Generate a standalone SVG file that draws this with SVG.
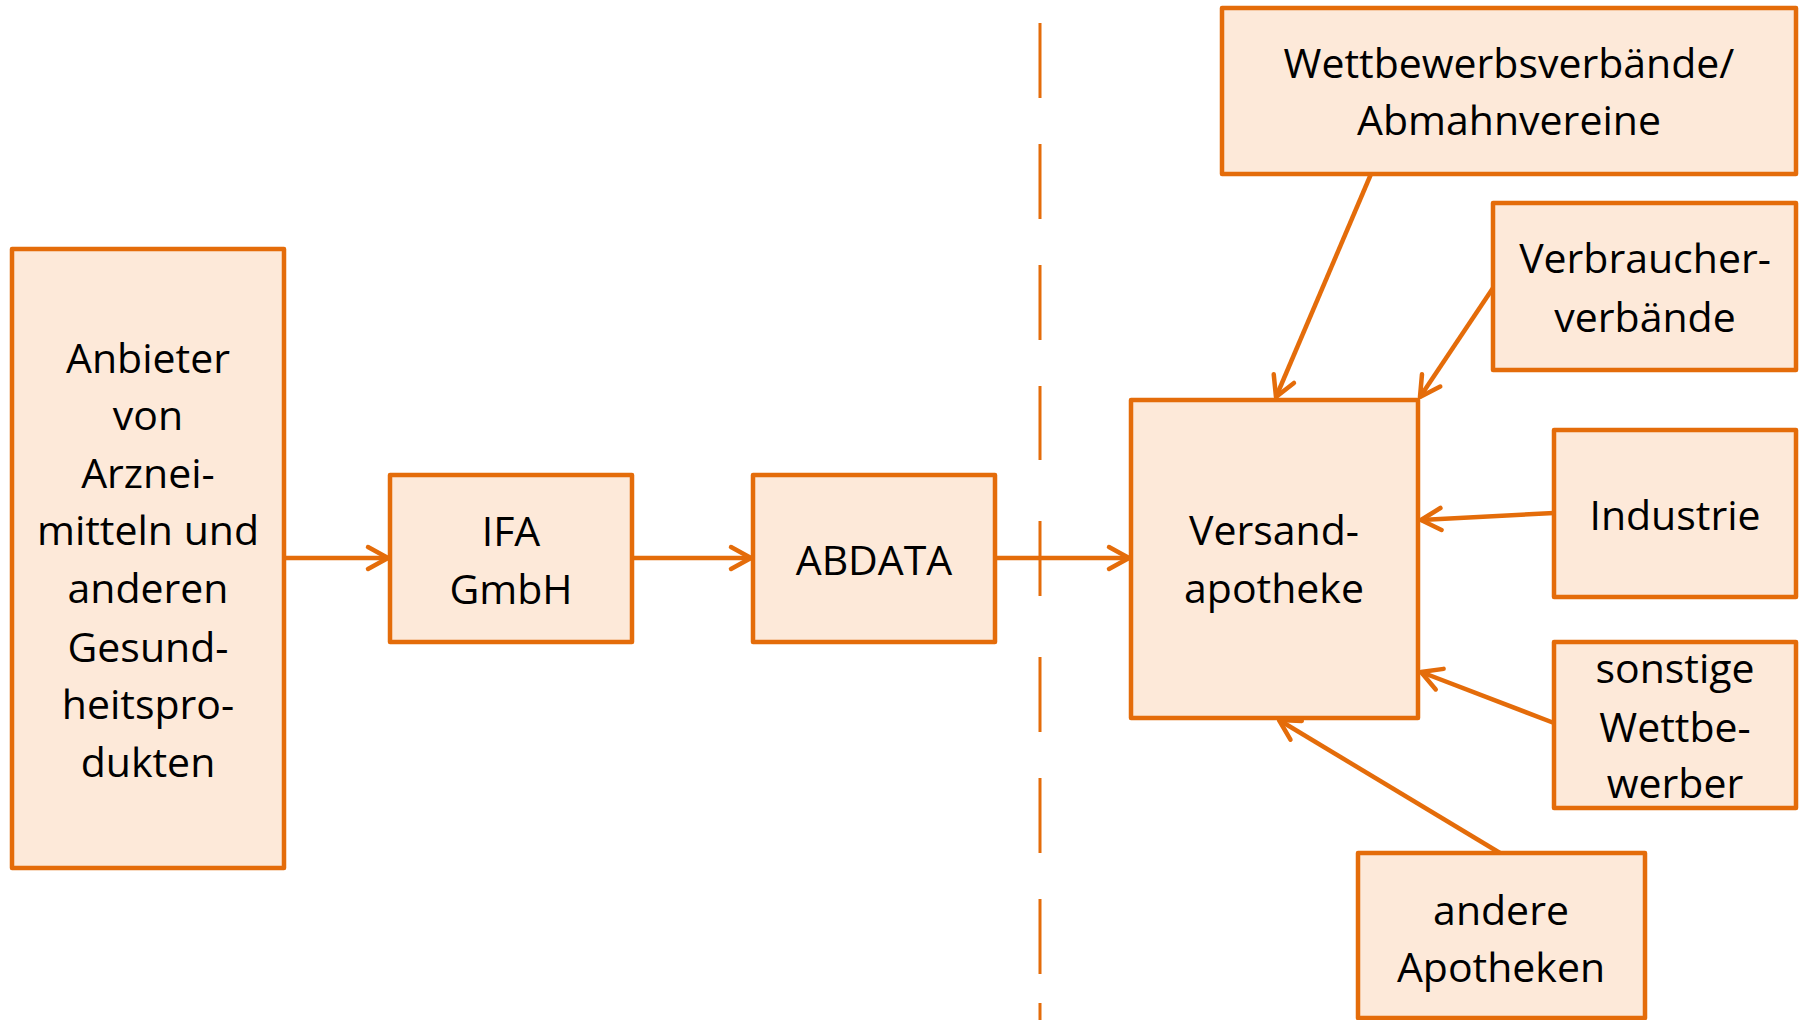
<svg xmlns="http://www.w3.org/2000/svg" width="1805" height="1020" viewBox="0 0 1805 1020">
<style>
.box{fill:#FDE9D9;stroke:#E46C0A;stroke-width:4.5;stroke-linejoin:round}
.lbl{font-family:"Open Sans","Noto Sans",sans-serif;font-size:41px;fill:#000;text-anchor:middle}
.con{stroke:#E46C0A;stroke-width:4.5;fill:none}
.dash{stroke:#E46C0A;stroke-width:3;fill:none}
</style>
<defs>
<marker id="arr" markerUnits="userSpaceOnUse" viewBox="-26 -16 30 32" markerWidth="30" markerHeight="32" refX="0" refY="0" orient="auto">
<path d="M-20,-11 L0,0 L-20,11" fill="none" stroke="#E46C0A" stroke-width="4.5" stroke-linecap="round" stroke-linejoin="round"/>
</marker>
</defs>
<rect width="1805" height="1020" fill="#fff"/>
<g id="divider">
<path class="dash" d="M1040,23V98M1040,144V219M1040,265V340M1040,386V460M1040,521V596M1040,657V732M1040,778V853M1040,899V974M1040,1003V1020"/>
</g>
<g id="connectors">
<line class="con" x1="284" y1="558" x2="388" y2="558" marker-end="url(#arr)"/>
<line class="con" x1="632" y1="558" x2="751" y2="558" marker-end="url(#arr)"/>
<line class="con" x1="995" y1="558" x2="1129" y2="558" marker-end="url(#arr)"/>
<line class="con" x1="1371" y1="174" x2="1276" y2="397" marker-end="url(#arr)"/>
<line class="con" x1="1493" y1="288" x2="1420" y2="397" marker-end="url(#arr)"/>
<line class="con" x1="1554" y1="513" x2="1421" y2="520" marker-end="url(#arr)"/>
<line class="con" x1="1554" y1="723" x2="1421" y2="672" marker-end="url(#arr)"/>
<line class="con" x1="1500" y1="853" x2="1279" y2="720" marker-end="url(#arr)"/>
</g>
<g id="anbieter">
<rect class="box" x="12" y="249" width="272" height="619"/>
<text class="lbl" x="148" y="373">Anbieter</text>
<text class="lbl" x="148" y="430">von</text>
<text class="lbl" x="148" y="488">Arznei-</text>
<text class="lbl" x="148" y="545">mitteln und</text>
<text class="lbl" x="148" y="603">anderen</text>
<text class="lbl" x="148" y="662">Gesund-</text>
<text class="lbl" x="148" y="719">heitspro-</text>
<text class="lbl" x="148" y="777">dukten</text>
</g>
<g id="ifa">
<rect class="box" x="390" y="475" width="242" height="167"/>
<text class="lbl" x="511" y="546">IFA</text>
<text class="lbl" x="511" y="604">GmbH</text>
</g>
<g id="abdata">
<rect class="box" x="753" y="475" width="242" height="167"/>
<text class="lbl" x="874" y="575">ABDATA</text>
</g>
<g id="versand">
<rect class="box" x="1131" y="400" width="287" height="318"/>
<text class="lbl" x="1274" y="545">Versand-</text>
<text class="lbl" x="1274" y="603">apotheke</text>
</g>
<g id="wettbewerb">
<rect class="box" x="1222" y="8" width="574" height="166"/>
<text class="lbl" x="1509" y="78">Wettbewerbsverbände/</text>
<text class="lbl" x="1509" y="135">Abmahnvereine</text>
</g>
<g id="verbraucher">
<rect class="box" x="1493" y="203" width="303" height="167"/>
<text class="lbl" x="1645" y="273">Verbraucher-</text>
<text class="lbl" x="1645" y="332">verbände</text>
</g>
<g id="industrie">
<rect class="box" x="1554" y="430" width="242" height="167"/>
<text class="lbl" x="1675" y="530">Industrie</text>
</g>
<g id="sonstige">
<rect class="box" x="1554" y="642" width="242" height="166"/>
<text class="lbl" x="1675" y="683">sonstige</text>
<text class="lbl" x="1675" y="742">Wettbe-</text>
<text class="lbl" x="1675" y="798">werber</text>
</g>
<g id="andere">
<rect class="box" x="1358" y="853" width="287" height="165"/>
<text class="lbl" x="1501" y="925">andere</text>
<text class="lbl" x="1501" y="982">Apotheken</text>
</g>
</svg>
